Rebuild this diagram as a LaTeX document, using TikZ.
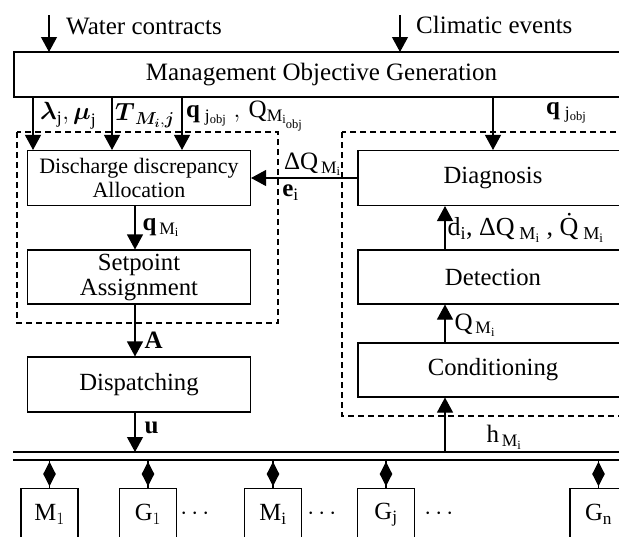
\documentclass[tikz,border=0pt]{standalone}
\usepackage{amsmath}
\usepackage{fontspec}
\setmainfont{Liberation Serif}
\usetikzlibrary{arrows.meta, shapes.geometric, calc, positioning}

\begin{document}
\begin{tikzpicture}[x=1pt, y=-1pt,
    block/.style={draw, line width=1.1pt, minimum height=55pt, align=center, inner sep=0pt, font=\fontsize{24.7}{25}\selectfont},
    lbl/.style={inner sep=1pt, font=\fontsize{25}{26}\selectfont},
    flow/.style={line width=1.1pt, -{Triangle[length=15pt,width=16pt]}},
    group/.style={draw, line width=1.1pt, dash pattern=on 6pt off 4pt},
    unit/.style={draw, line width=1.1pt, minimum width=57pt, minimum height=52pt, anchor=north, font=\fontsize{24.7}{26}\selectfont},
    link/.style={diamond, fill=black, minimum width=13pt, minimum height=25pt, inner sep=0pt}]

    \useasboundingbox (0,0) rectangle (619,536);
    \clip (0,0) rectangle (619,536);

    % Groups
    \draw[group] (17,132) rectangle (278,323);
    \draw[group] (342,132) rectangle (640,416);

    % Objective generation
    \coordinate (mogN) at (14,52);
    \coordinate (mogS) at (14,97);
    \draw[line width=1.1pt] (mogN) rectangle (640,97);
    \node[lbl] (mog) at (321.5,75) {Management Objective Generation};
    \coordinate (wcIn) at (49,15);
    \coordinate (ceIn) at (400,15);
    \draw[flow] (wcIn) -- (wcIn |- mogN);
    \draw[flow] (ceIn) -- (ceIn |- mogN);
    \node[lbl, anchor=west] (wcText) at (65,27) {Water contracts};
    \node[lbl, anchor=west] (ceText) at (415,25) {Climatic events};

    % Control chain
    \node[block, minimum width=223pt, font=\fontsize{22}{24}\selectfont] (dda) at (139,178) {Discharge discrepancy\\Allocation};
    \node[block, minimum width=223pt, minimum height=54pt] (spa) at (139,277) {Setpoint\\Assignment};
    \node[block, minimum width=223pt, minimum height=55pt] (dsp) at (139,384.5) {Dispatching};

    % Supervision chain
    \node[block, minimum width=270pt] (dia) at (493,178) {Diagnosis};
    \node[block, minimum width=270pt, minimum height=54pt] (det) at (493,277) {Detection};
    \node[block, minimum width=270pt, minimum height=54pt] (con) at (493,370) {Conditioning};

    % Columns of the arrows
    \coordinate (colA) at (33,0);
    \coordinate (colB) at (112,0);
    \coordinate (colC) at (182,0);
    \coordinate (colD) at (493,0);
    \coordinate (colL) at (135,0);
    \coordinate (colR) at (445,0);

    \draw[flow] (mogS -| colA) -- (dda.north -| colA);
    \draw[flow] (mogS -| colB) -- (dda.north -| colB);
    \draw[flow] (mogS -| colC) -- (dda.north -| colC);
    \draw[flow] (mogS -| colD) -- (dia.north -| colD);
    \node[lbl, anchor=west] (lamLbl) at (39,116) {$\boldsymbol{\lambda}_{\mathrm{j}},\boldsymbol{\mu}_{\mathrm{j}}$};
    \node[lbl, anchor=west] (tLbl) at (114,116) {$\boldsymbol{T}_{\boldsymbol{M_i},\boldsymbol{j}}$};
    \node[lbl, anchor=west] (qLbl) at (185,116) {$\mathbf{q}_{\;\mathrm{j_{obj}}}\;,\,\mathrm{Q}_{\mathrm{M_{i_{obj}}}}$};
    \node[lbl, anchor=west] (qrLbl) at (545,113) {$\mathbf{q}_{\;\mathrm{j_{obj}}}$};

    \draw[flow] (dda.south -| colL) -- (spa.north -| colL) node[lbl, pos=.5, right=6pt] (qmLbl) {$\mathbf{q}_{\,\mathrm{M_i}}$};
    \draw[flow] (spa.south -| colL) -- (dsp.north -| colL) node[lbl, pos=.68, right=8pt] (aLbl) {$\mathbf{A}$};

    \draw[flow] (dia.west) -- (dda.east)
        node[lbl, pos=.71, above right=1pt] (dqLbl) {ΔQ$_{\,\mathrm{M_i}}$}
        node[lbl, pos=.72, below right=5pt and 0pt] (eLbl) {$\mathbf{e}_{\mathrm{i}}$};

    \draw[flow] (det.north -| colR) -- (dia.south -| colR)
        node[lbl, pos=.5, right=1pt, font=\fontsize{26}{26}\selectfont] (dLbl) {d$_{\mathrm{i}}$,\ ΔQ$_{\;\mathrm{M_i}}$\ ,\ \.{Q}$_{\;\mathrm{M_i}}$};
    \draw[flow] (con.north -| colR) -- (det.south -| colR)
        node[lbl, pos=.46, right=8pt] (qmrLbl) {Q$_{\,\mathrm{M_i}}$};

    % Bus
    \coordinate (busW) at (13,452);
    \coordinate (busE) at (640,452);
    \coordinate (busW2) at (13,460);
    \coordinate (busE2) at (640,460);
    \draw[line width=1.1pt] (busW) -- (busE);
    \draw[line width=1.1pt] (busW2) -- (busE2);

    \draw[flow] (dsp.south -| colL) -- (colL |- busW) node[lbl, pos=.4, right=8pt] (uLbl) {$\mathbf{u}$};
    \draw[flow] (colR |- busW) -- (con.south -| colR) node[lbl, pos=.27, right=40pt] (hLbl) {h$_{\,\mathrm{M_i}}$};

    % Units on the bus
    \node[unit] (m1) at (49.5,488) {M$_1$};
    \node[unit] (g1) at (148,488) {G$_1$};
    \node[unit] (mi) at (273,488) {M$_{\mathrm{i}}$};
    \node[unit] (gj) at (386,488) {G$_{\mathrm{j}}$};
    \node[unit] (gn) at (598.5,488) {G$_{\mathrm{n}}$};
    \node[lbl] (dotsA) at (197,514) {$\cdots$};
    \node[lbl] (dotsB) at (324,514) {$\cdots$};
    \node[lbl] (dotsC) at (441,514) {$\cdots$};
    \foreach \u in {m1,g1,mi,gj,gn}
        \draw[line width=1.1pt] (\u.north) -- (\u.north |- busW2) node[midway, link] {};
\end{tikzpicture}
\end{document}
